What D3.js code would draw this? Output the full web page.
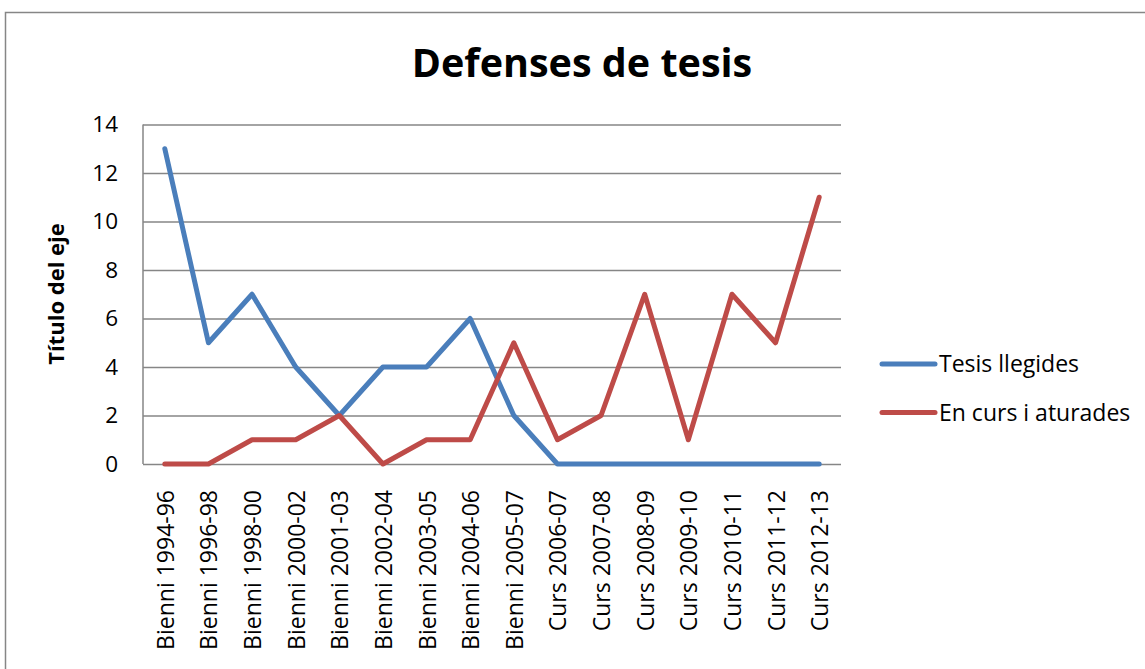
<!doctype html>
<meta charset="utf-8" />
<style>
    body { margin: 0; background: #fff; }
    text { font-family: "Open Sans", sans-serif; fill: #000; }
</style>
<svg></svg>
<script src="https://cdn.jsdelivr.net/npm/d3@7"></script>
<script>
    var categories = ['Bienni 1994-96', 'Bienni 1996-98', 'Bienni 1998-00', 'Bienni 2000-02',
        'Bienni 2001-03', 'Bienni 2002-04', 'Bienni 2003-05', 'Bienni 2004-06', 'Bienni 2005-07',
        'Curs 2006-07', 'Curs 2007-08', 'Curs 2008-09', 'Curs 2009-10', 'Curs 2010-11',
        'Curs 2011-12', 'Curs 2012-13'];
    var tesisLlegides = [13, 5, 7, 4, 2, 4, 4, 6, 2, 0, 0, 0, 0, 0, 0, 0];
    var enCurs = [0, 0, 1, 1, 2, 0, 1, 1, 5, 1, 2, 7, 1, 7, 5, 11];
    var yTicks = [0, 2, 4, 6, 8, 10, 12, 14];
    var seriesNames = ['Tesis llegides', 'En curs i aturades'];
    var colors = ['#4A7EBB', '#BE4B48'];

    var svg = d3.select('svg')
        .attr('width', 1145)
        .attr('height', 669)

    // chart frame
    svg.append('rect')
        .attr('x', 5.5).attr('y', 12.5)
        .attr('width', 1160).attr('height', 680)
        .style('fill', 'white')
        .style('stroke', '#868686')
        .style('stroke-width', 1.5)

    var pLeft = 143, pRight = 841, pTop = 124.5, pBottom = 464;

    var x = d3.scaleBand().domain(categories).range([pLeft, pRight]);
    var y = d3.scaleLinear().domain([0, 14]).range([pBottom, pTop]);

    // gridlines
    svg.append('g')
        .attr('transform', 'translate(' + pLeft + ',0)')
        .call(d3.axisLeft(y).tickValues(yTicks).tickSize(-(pRight - pLeft)).tickFormat(''))
        .call(g => g.select('.domain').remove())
        .selectAll('line')
        .style('stroke', '#868686')
        .style('stroke-width', 1.5)

    // y axis line
    svg.append('line')
        .attr('x1', pLeft).attr('x2', pLeft)
        .attr('y1', pTop).attr('y2', pBottom)
        .style('stroke', '#868686')
        .style('stroke-width', 1.5)

    // y tick labels
    svg.selectAll('.ylab')
        .data(yTicks)
        .enter().append('text')
        .attr('x', 118)
        .attr('y', d => y(d))
        .attr('dy', '0.35em')
        .attr('text-anchor', 'end')
        .style('font-size', '22.5px')
        .text(d => d)

    // x tick labels
    svg.selectAll('.xlab')
        .data(categories)
        .enter().append('text')
        .attr('transform', d => 'translate(' + (x(d) + x.bandwidth() / 2 + 9) + ',490) rotate(-90)')
        .attr('text-anchor', 'end')
        .style('font-size', '23px')
        .text(d => d)

    // lines
    var line = d3.line()
        .x((d, i) => x(categories[i]) + x.bandwidth() / 2)
        .y(d => y(d))

    ;[tesisLlegides, enCurs].forEach(function (s, k) {
        svg.append('path')
            .attr('d', line(s))
            .style('fill', 'none')
            .style('stroke', colors[k])
            .style('stroke-width', 5)
            .style('stroke-linecap', 'round')
            .style('stroke-linejoin', 'round')
    })

    // title
    svg.append('text')
        .attr('x', 582).attr('y', 77)
        .attr('text-anchor', 'middle')
        .style('font-size', '39.5px')
        .style('font-weight', 'bold')
        .text('Defenses de tesis')

    // y axis title
    svg.append('text')
        .attr('transform', 'translate(64,294) rotate(-90)')
        .attr('text-anchor', 'middle')
        .style('font-size', '22px')
        .style('font-weight', 'bold')
        .text('Título del eje')

    // legend
    var legend = svg.selectAll('.leg')
        .data(seriesNames)
        .enter().append('g')
        .attr('transform', (d, i) => 'translate(0,' + (364 + i * 48.5) + ')')

    legend.append('line')
        .attr('x1', 882).attr('x2', 935)
        .style('stroke', (d, i) => colors[i])
        .style('stroke-width', 5)
        .style('stroke-linecap', 'round')

    legend.append('text')
        .attr('x', 939)
        .attr('dy', '0.35em')
        .style('font-size', '23px')
        .text(d => d)
</script>
